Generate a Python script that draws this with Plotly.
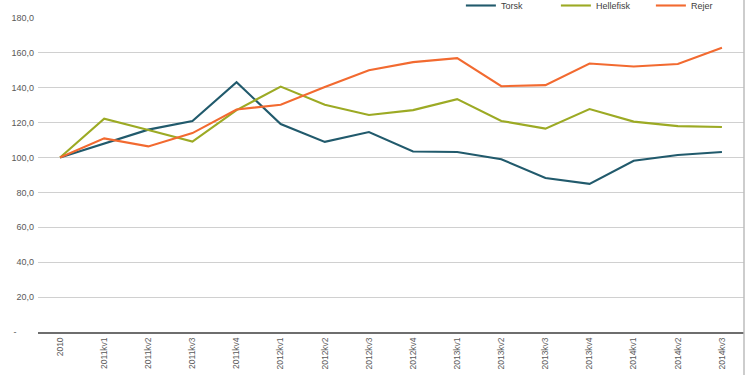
import plotly.graph_objects as go

categories = ["2010", "2011kv1", "2011kv2", "2011kv3", "2011kv4", "2012kv1", "2012kv2", "2012kv3",
              "2012kv4", "2013kv1", "2013kv2", "2013kv3", "2013kv4", "2014kv1", "2014kv2", "2014kv3"]
torsk = [100, 108.2, 116.0, 121.0, 143.2, 119.2, 109.0, 114.6, 103.5, 103.2, 99.0, 88.3, 84.9, 98.2, 101.5, 103.2]
hellefisk = [100, 122.3, 115.8, 109.2, 127.2, 140.7, 130.3, 124.4, 127.2, 133.5, 121.0, 116.6, 127.8, 120.6, 118.0, 117.5]
rejer = [100, 111.0, 106.4, 114.0, 127.5, 130.3, 140.4, 150.1, 154.7, 157.0, 140.9, 141.5, 153.9, 152.2, 153.6, 163.0]

series_names = ["Torsk", "Hellefisk", "Rejer"]
series_values = [torsk, hellefisk, rejer]
colors = ["#215A6C", "#9CAA24", "#F26A30"]

ytick_vals = [0, 20, 40, 60, 80, 100, 120, 140, 160, 180]
ytick_text = ["-       ", "20,0", "40,0", "60,0", "80,0", "100,0", "120,0", "140,0", "160,0", "180,0"]

fig = go.Figure()
for name, vals, c in zip(series_names, series_values, colors):
    fig.add_trace(go.Scatter(x=categories, y=vals, name=name, mode="lines",
                             line=dict(color=c, width=2.1)))

fig.update_layout(
    width=750, height=375,
    margin=dict(l=38, r=6, t=18, b=43, autoexpand=False),
    paper_bgcolor="white", plot_bgcolor="white",
    font=dict(family="Liberation Sans, Arial, sans-serif", size=9, color="#595959"),
    showlegend=True,
    legend=dict(orientation="h", x=0.599, y=1.086, xanchor="left", yanchor="top",
                font=dict(size=9, color="#404040"), itemwidth=30, entrywidth=50,
                bgcolor="rgba(0,0,0,0)", borderwidth=0, tracegroupgap=0),
    xaxis=dict(type="category", range=[-0.5, 15.5], showgrid=False, tickangle=-90,
               showline=True, linecolor="#6e6e6e", linewidth=2,
               ticks="", tickfont=dict(size=8.5, color="#595959"), fixedrange=True),
    yaxis=dict(range=[0, 180], tickvals=ytick_vals, ticktext=ytick_text,
               showgrid=True, gridcolor="#d0d0d0", gridwidth=1.3,
               zeroline=False, showline=False, ticks="", ticklabelstandoff=3,
               tickfont=dict(size=9, color="#595959"), fixedrange=True),
)
fig.add_shape(type="line", xref="paper", yref="paper", x0=1.0, x1=1.0, y0=-0.14, y1=1.06,
              line=dict(color="#bdbdbd", width=1.5))

fig.write_html("out.html", config={"displayModeBar": False},
               post_script="document.body.style.margin='0px';")
